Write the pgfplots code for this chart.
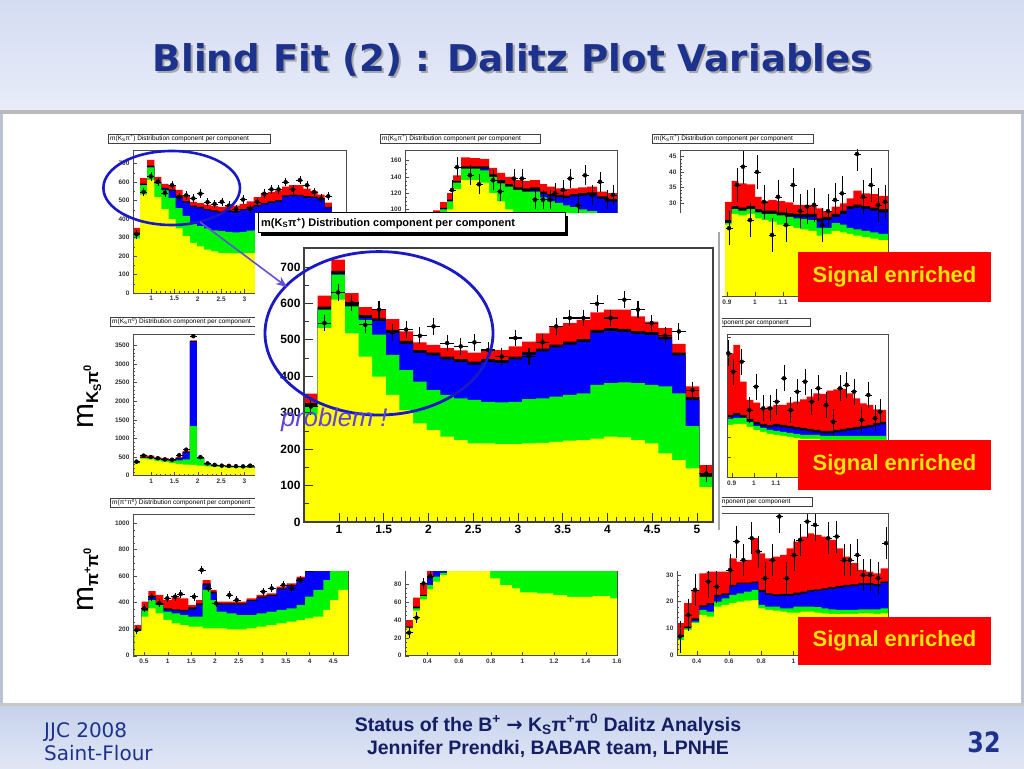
\documentclass[border=0pt]{standalone}
\usepackage{fontspec}
\setmainfont{Liberation Sans}
\newfontfamily\dejavu{DejaVu Sans}
\usepackage{pgfplots}
\pgfplotsset{compat=1.18}
\usepackage{pgfplotstable}
\usetikzlibrary{arrows.meta}

\definecolor{hy}{RGB}{255,255,0}
\definecolor{hg}{RGB}{0,245,0}
\definecolor{hb}{RGB}{0,0,255}
\definecolor{hr}{RGB}{255,0,0}
\definecolor{navy}{RGB}{28,50,140}
\definecolor{footnavy}{RGB}{20,30,100}
\definecolor{ringblue}{RGB}{25,25,200}
\definecolor{arrowc}{RGB}{100,80,220}
\definecolor{probc}{RGB}{95,65,225}
\definecolor{sigtxt}{RGB}{255,232,0}
\definecolor{bandtop}{RGB}{212,220,242}
\definecolor{bandbot}{RGB}{232,236,249}
\definecolor{foottop}{RGB}{198,210,236}
\definecolor{footbot}{RGB}{224,230,245}
\definecolor{edge}{RGB}{188,194,210}

\pgfplotsset{
  histo/.style={scale only axis, axis on top, anchor=south west,
    tick align=inside, tick pos=left,
    axis line style={draw=black!70, line width=0.5pt},
    tick style={black!70, line width=0.4pt},
    major tick length=4pt, minor tick length=2pt,
    tick label style={font=\fontsize{6.5}{7}\selectfont\bfseries, text=black!80},
    /pgf/number format/assume math mode=true,
    /pgf/number format/1000 sep={},
    scaled ticks=false, ymin=0},
}

% stacked components: each column is the cumulative top
\newcommand\stackhist[1]{%
  \addplot[const plot, fill=hr, draw=none] table[x=x,y=R]{#1}\closedcycle;
  \addplot[const plot, fill=black, draw=none] table[x=x,y=K]{#1}\closedcycle;
  \addplot[const plot, fill=hb, draw=none] table[x=x,y=B]{#1}\closedcycle;
  \addplot[const plot, fill=hg, draw=none] table[x=x,y=G]{#1}\closedcycle;
  \addplot[const plot, fill=hy, draw=none] table[x=x,y=Y]{#1}\closedcycle;}
\newcommand\datapts[4]{%
  \addplot[only marks, mark=none, error bars/.cd, x dir=both, x fixed=#2,
    y dir=both, y fixed=#3, error mark=none,
    error bar style={line width=#4, black}] table[x=x,y=y]{#1};}

% m(Ks pi+) : big plot and top-left
\pgfplotstableread{
x Y G B K R
0.610 295 318 318 326 352
0.762 532 583 583 591 621
0.915 610 679 681 689 720
1.067 518 592 592 600 628
1.219 454 555 560 568 590
1.372 399 514 551 559 583
1.524 349 459 519 527 557
1.676 307 417 489 497 523
1.828 271 385 464 472 493
1.981 252 362 457 465 486
2.133 234 349 446 454 477
2.285 225 339 439 447 471
2.438 216 335 432 440 465
2.590 216 330 439 447 471
2.742 214 328 436 444 472
2.895 214 330 446 454 482
3.047 216 337 459 467 495
3.199 217 339 468 476 518
3.351 220 344 479 487 537
3.504 223 349 487 495 546
3.656 225 353 494 502 555
3.808 229 376 519 527 575
3.961 234 381 524 532 583
4.113 232 383 522 530 583
4.265 225 381 516 524 564
4.418 216 376 513 521 550
4.570 188 372 501 509 532
4.722 170 353 457 465 489
4.874 147 263 335 343 372
5.027 96 124 124 132 156
5.179 96 124 124 132 156
}\kspiptab
\pgfplotstableread{
x y
0.686 317
0.838 546
0.991 630
1.143 601
1.295 541
1.448 583
1.600 520
1.752 528
1.904 511
2.057 537
2.209 491
2.361 482
2.514 493
2.666 472
2.818 454
2.971 505
3.123 454
3.275 493
3.427 537
3.580 560
3.732 560
3.884 599
4.037 560
4.189 610
4.341 583
4.494 546
4.646 511
4.798 523
4.950 362
5.103 133
}\kspipdat

% m(Ks pi0)
\pgfplotstableread{
x Y G B K R
0.610 330 350 350 360 378
0.762 460 480 480 490 560
0.915 440 470 470 480 540
1.067 400 440 440 455 490
1.219 370 410 415 430 470
1.372 340 390 400 410 450
1.524 320 410 460 475 500
1.676 300 440 620 635 660
1.828 290 1330 3600 3620 3640
1.981 270 460 470 480 500
2.133 250 300 310 320 340
2.285 240 270 280 290 300
2.438 230 255 260 270 285
2.590 220 245 250 260 275
2.742 215 235 240 250 265
2.895 210 230 235 245 255
3.047 205 225 235 245 260
3.199 205 225 235 245 260
3.351 205 225 235 245 260
}\kspzTab
\pgfplotstableread{
x y
0.686 378
0.838 540
0.991 500
1.143 470
1.295 440
1.448 430
1.600 550
1.752 700
1.904 3750
2.057 500
2.209 330
2.361 290
2.514 270
2.666 265
2.818 255
2.971 250
3.123 270
}\kspzDat

% top-middle (x in picture units)
\pgfplotstableread{
x Y G B K R
433 90 95 95 97 99
440 95 100 100 102 109
447 100 110 110 112 120
453 125 133 133 135 142
461 136 150 150 153 164
470 136 150 150 153 163
480 133 148 150 153 162
489 120 140 140 143 151
497 110 132 132 136 145
505 100 128 128 131 140
513 95 124 124 127 136
522 90 122 122 126 135
530 85 122 123 127 136
540 80 115 119 122 131
547 75 110 116 119 128
555 70 108 115 118 126
563 65 105 114 117 125
570 60 103 116 119 126
578 58 100 117 120 127
587 55 98 118 121 128
597 52 95 113 116 122
607 50 93 110 113 120
617 50 93 110 113 120
}\tmTab
\pgfplotstableread{
x y
452 124
457 152
470 142
479 131
493 136
500 122
514 138
522 138
535 112
543 112
550 112
555 120
563 124
570 138
578 105
585 142
592 118
600 134
607 112
613 118
}\tmDat

% top-right
\pgfplotstableread{
x Y G B K R
725 23 23.5 23.5 24.5 30.4
731.7 26.5 28 28 29 37.1
738.3 26 27.5 27.5 28.5 36.3
746.7 26.5 28 28 29 36
755 25 27 27 28 32
761.7 24.5 26.5 26.5 27.5 30.6
768.3 24 26.5 26.5 27.5 31
776.7 23 26 26 27 30.6
785 22.5 25.5 25.7 26.7 30.2
793.3 22 25 25.5 26.5 29.4
800 21.5 24.8 25.5 26.5 29.4
808.3 21 24.5 25.5 26.5 29.4
816.7 19.5 22 24 25 28.3
823.3 20 22 24.5 25.5 27.4
831.7 21 23.5 25.5 26.5 28.8
840 20.5 23 26.5 27.5 29.9
846.7 20 22 28 29 31.5
853.3 19.5 21.5 28.5 29.5 34
861.7 19 21 28 29 33.1
870 18.5 20.5 27.5 28.5 32.9
878.3 18 20 27 28 32.3
888 18 20 27 28 32.3
}\trTab
\pgfplotstableread{
x y
729 21.9
737 35.8
743 41.7
750 24.5
757 40
764 30.4
772 19.7
778 32
786 22.9
793 35.8
800 27.4
807 28.8
814 29.4
822 22.9
828 27.4
835 31
842 33.1
857 45.8
863 32
871 35.8
878 29.4
885 30.4
}\trDat

% middle-right
\pgfplotstableread{
x Y G B K R
727.3 52 58 59.5 62 123.7
733.3 53 59 61.5 64 132
740 53 59 59.5 62 95.3
746.7 50 55 55.5 58 77
753.3 47 51 52.5 55 74.3
760 45 49 50.5 53 68.7
766.7 43 47 49.5 52 70.3
773.3 42 46 50.5 53 72
780 41 45 49.5 52 72
786.7 40 44 48.5 51 74.3
793.3 39 43 47.5 50 75.3
800 38 42 46.5 49 77.7
806.7 38 42 45.5 48 80.3
813.3 38 42 44.5 47 83.7
820 37 41 43.5 46 83
826.7 37 41 43.5 46 86.3
833.3 37 41 44.5 47 87.7
840 37 41 45.5 48 88
846.7 37 41 46.5 49 83.7
853.3 37 41 47.5 50 78.7
860 37 41 48.5 51 73.7
866.7 37 41 49.5 52 72
873.3 37 41 51.5 54 67.7
880 37 41 52.5 55 67
886 37 41 52.5 55 67
}\mrTab
\pgfplotstableread{
x y
728.3 123.7
733.3 105.3
741.7 115.3
749.3 67
756 90.3
763.3 68.7
770 68.7
776.7 75.3
784 98.7
790.7 67
797.3 85.3
805 95.3
811.7 75.3
818.3 88.7
826 72
833.3 55.3
840 88.7
846.7 92
854 85.3
861.7 57
868.3 82
875 58.7
880 65.3
}\mrDat

% m(pi+ pi0) bottom-left
\pgfplotstableread{
x Y G B K R
134.3 185 195 195 200 231
141.7 294 340 340 352 408
148.3 357 420 440 450 488
155.7 320 382 385 395 458
163.3 270 332 345 357 420
171.7 244 320 340 350 440
180 231 307 335 345 433
188.3 219 294 350 365 382
196 219 294 382 395 420
202.7 206 496 533 546 571
210.7 206 420 470 483 496
216.7 206 332 385 395 408
226.7 199 320 385 395 408
236.7 199 307 385 395 408
246.7 206 307 412 420 433
256.7 219 320 437 445 458
266.7 231 332 450 458 470
276.7 244 345 500 508 521
286.7 257 357 525 533 546
296.7 269 382 575 584 596
305 282 445 630 640 700
313.3 294 496 700 720 760
323.3 345 571 750 770 800
330 420 640 800 820 850
338.3 496 700 850 870 900
348 496 700 850 870 900
}\blTab
\pgfplotstableread{
x y
136.7 194
144.3 357
151.7 445
159.3 395
167.3 433
175 445
180.7 465
194 445
201.7 647
208.3 508
216 395
229.3 458
236.7 420
263.3 483
271.7 508
283.3 533
291.7 508
300 571
}\blDat

% bottom-middle
\pgfplotstableread{
x Y G B K R
405 30.5 31.5 31.5 32.4 39.9
413 50.3 52.9 52.9 55 65
420 62.9 66.7 66.7 68 80.8
427 74.1 79 86.4 88 100
433 82.7 88.3 96 97 100
440 90.1 92.7 100 101 104
447 130 132 133 134 136
490 86.4 130 132 133 136
500 79 130 132 133 136
512 75.2 130 132 133 136
520 70.8 130 132 133 136
537 69.6 130 132 133 136
553 67.8 130 132 133 136
567 65.9 130 132 133 136
593 66.7 130 132 133 136
610 64.1 130 132 133 136
617 64.1 130 132 133 136
}\bmTab
\pgfplotstableread{
x y
409 25.7
416.5 42.5
423.5 80.8
430 89
}\bmDat

% bottom-right
\pgfplotstableread{
x Y G B K R
676.7 5.6 6.9 6.9 7.5 11.9
684 9.4 10 10 10.6 19.4
691.7 11.9 12.5 13.1 13.75 24.4
699.3 15 16.9 17.9 18.6 30.6
706.7 14.4 16.25 18.8 19.4 31.25
714 18.1 20 21.9 22.5 31.25
721.7 18.75 21.25 22.5 23.1 31.25
729.3 19.4 22.5 25.6 26.25 36.25
736.7 20 23.1 26.6 27.1 35
744 20.4 23.75 26.6 27.1 35.6
751.7 20.6 24.4 26.9 27.5 43.75
758.3 17.5 18.75 23.75 24.4 38.1
765 16.9 18.1 22.5 23.1 36.25
772.7 16.6 18.1 22.1 22.75 36.9
780 16.25 17.5 22.25 22.9 37.5
786.7 15.9 17.5 22.25 22.9 40
793.3 15.9 18.1 22.5 23.4 42.5
800.7 16.25 18.1 23.1 23.75 44.4
807.3 16.25 18.1 23.75 24.4 45.6
814 15.9 17.9 24 24.6 45
821.7 15.6 17.5 24.4 25 44.4
828.3 15.4 17.1 24.75 25.4 43.1
836 15.4 16.9 25.25 25.9 40
843.3 15.4 16.9 25.6 26.25 36.9
850.7 15.4 16.9 25.9 26.5 34.4
858.3 15.6 17.1 26.25 26.9 31.9
866 15.6 17.1 26.25 26.9 31.25
873.3 15.4 17.1 26 26.6 30.6
880.7 15.6 17.5 26.9 27.5 32.5
888.3 15.6 17.5 26.9 27.5 32.5
}\brTab
\pgfplotstableread{
x y
680 6.9
688.3 15
695 24.4
708.3 27.5
716.7 25.6
730 31.9
736.7 42.5
743.3 35.6
751.7 43.75
758.3 38.75
765 28.75
772.7 35.6
779.3 51.9
786.7 28.75
794 37.5
800 43.1
807.3 50
815 48.75
828.3 43.75
836.7 44.4
844 35.6
850 35.6
857.3 37.5
863.3 30
870 30
878.3 28.75
886 41.9
}\brDat

\newcommand\smalltitle[5]{% x1 x2 ytop ybot text
  \fill[black!65] (#1+1.2,768-#4-1.2) rectangle (#2+1.2,768-#3-1.2);
  \filldraw[fill=white, draw=black!75, line width=0.5pt] (#1,768-#4) rectangle (#2,768-#3);
  \node[anchor=west, inner sep=0pt, font=\fontsize{6.5}{7}\selectfont] at (#1+2,768-#3/2-#4/2) {#5};}

\begin{document}
\begin{tikzpicture}
\begin{scope}[x=1pt,y=1pt]
\useasboundingbox (0,0) rectangle (1024,768);
\fill[edge] (0,0) rectangle (1024,768);
\shade[top color=bandtop, bottom color=bandbot] (0,658) rectangle (1024,768);
\fill[black!27] (0,654) rectangle (1024,658);
\fill[white] (3,65) rectangle (1021,654);
\fill[black!22] (0,62) rectangle (1024,65);
\shade[top color=foottop, bottom color=footbot] (0,0) rectangle (1024,62);
\end{scope}

% ---- small plots ----
\begin{axis}[histo, at={(133pt,475pt)}, width=213pt, height=143pt,
  xmin=0.61, xmax=5.179, ymax=773,
  xtick={1,1.5,2,2.5,3}, minor x tick num=4,
  ytick={0,100,...,700}, minor y tick num=1]
\stackhist{\kspiptab}
\datapts{\kspipdat}{0.076}{23}{0.5pt}
\end{axis}

\begin{axis}[histo, at={(405pt,477pt)}, width=212pt, height=141pt,
  xmin=405, xmax=617, ymax=173, xtick=\empty,
  ytick={100,120,140,160}, minor y tick num=3]
\stackhist{\tmTab}
\datapts{\tmDat}{3.5}{12}{0.5pt}
\end{axis}

\begin{axis}[histo, at={(680pt,472pt)}, width=208pt, height=146pt,
  xmin=680, xmax=888, ymax=47.1,
  xtick={727,755,783}, xticklabels={0.9,1,1.1},
  ytick={30,35,40,45}, minor y tick num=4]
\stackhist{\trTab}
\datapts{\trDat}{3.5}{5.5}{0.5pt}
\end{axis}

\begin{axis}[histo, at={(133pt,292.3pt)}, width=213pt, height=141.7pt,
  xmin=0.61, xmax=5.179, ymax=3809,
  xtick={1,1.5,2,2.5,3}, minor x tick num=4,
  ytick={0,500,...,3500}, minor y tick num=4]
\stackhist{\kspzTab}
\datapts{\kspzDat}{0.076}{45}{0.5pt}
\end{axis}

\begin{axis}[histo, at={(727pt,291pt)}, width=161pt, height=143pt,
  xmin=727, xmax=888, ymax=143,
  xtick={731.7,753.8,775.9}, xticklabels={0.9,1,1.1},
  ytick={20,40,...,140}, yticklabels={}]
\stackhist{\mrTab}
\datapts{\mrDat}{3.3}{13}{0.5pt}
\end{axis}

\begin{axis}[histo, at={(133pt,112.3pt)}, width=215pt, height=141.7pt,
  xmin=133, xmax=348, ymax=1069,
  xtick={144,167.7,191.3,215,238.6,262.3,286,309.6,333.3},
  xticklabels={0.5,1,1.5,2,2.5,3,3.5,4,4.5},
  ytick={0,200,...,1000}, minor y tick num=3]
\stackhist{\blTab}
\datapts{\blDat}{3.8}{30}{0.5pt}
\end{axis}

\begin{axis}[histo, at={(405pt,112.3pt)}, width=212pt, height=161pt,
  xmin=405, xmax=617, ymax=180,
  xtick={427.3,459,490.7,522.3,554,585.7,617},
  xticklabels={0.4,0.6,0.8,1,1.2,1.4,1.6},
  ytick={0,20,...,80}, minor y tick num=3]
\stackhist{\bmTab}
\datapts{\bmDat}{3.5}{6}{0.5pt}
\end{axis}

\begin{axis}[histo, at={(677pt,113pt)}, width=211pt, height=141.7pt,
  xmin=677, xmax=888, ymax=53.1,
  xtick={696.7,729,761.2,793.4},
  xticklabels={0.4,0.6,0.8,1},
  ytick={0,10,20,30}, minor y tick num=4]
\stackhist{\brTab}
\datapts{\brDat}{3.6}{6}{0.5pt}
\end{axis}

\begin{scope}[x=1pt,y=1pt]
\smalltitle{108}{270}{134}{143}{m(K\textsubscript{S}π\textsuperscript{+}) Distribution component per component}
\smalltitle{380}{540}{134}{143}{m(K\textsubscript{S}π\textsuperscript{+}) Distribution component per component}
\smalltitle{652}{813}{134}{143}{m(K\textsubscript{S}π\textsuperscript{+}) Distribution component per component}
\smalltitle{110}{275}{317}{326}{m(K\textsubscript{S}π\textsuperscript{0}) Distribution component per component}
\smalltitle{648}{810}{318}{326}{m(K\textsubscript{S}π\textsuperscript{0}) Distribution component per component}
\smalltitle{110}{275}{498}{507}{m(π\textsuperscript{+}π\textsuperscript{0}) Distribution component per component}
\smalltitle{650}{812}{497}{506}{m(π\textsuperscript{+}π\textsuperscript{0}) Distribution component per component}
% small ring
\draw[ringblue, line width=2.6pt] (171.7,768-188) ellipse [x radius=68.3, y radius=37];
% white backdrop of the zoomed plot
\fill[white] (255,768-571) rectangle (722,768-213);
\draw[black!35, line width=1.5pt] (719,768-232) -- (719,768-530);
% title box of the zoomed plot
\fill[black] (261,768-236) rectangle (568,768-216);
\filldraw[fill=white, draw=black, line width=1pt] (258,768-233) rectangle (565,768-213);
\node[anchor=west, inner sep=0pt, font=\fontsize{11}{12}\selectfont\bfseries] at (261,768-223) {m(K\textsubscript{S}π\textsuperscript{+}) Distribution component per component};
\end{scope}

% ---- zoomed plot ----
\begin{axis}[histo, at={(304pt,246pt)}, width=409pt, height=274pt,
  xmin=0.61, xmax=5.179, ymax=752,
  xtick={1,1.5,...,5}, minor x tick num=4,
  ytick={0,100,...,700}, minor y tick num=1,
  major tick length=9pt, minor tick length=5pt,
  axis line style={draw=black!75, line width=1.1pt},
  tick style={black!80, line width=0.8pt},
  tick label style={font=\fontsize{12}{13}\selectfont\bfseries, text=black}]
\stackhist{\kspiptab}
\datapts{\kspipdat}{0.076}{23}{1.1pt}
\end{axis}

\begin{scope}[x=1pt,y=1pt]
\draw[ringblue, line width=2.8pt] (379,768-333.3) ellipse [x radius=114, y radius=81.7];
\draw[arrowc, line width=1.6pt, -{Stealth[length=11pt,width=9pt]}] (200,768-222) -- (287,768-287);
\node[anchor=base west, inner sep=0pt, text=probc, font=\fontsize{25.5}{27}\selectfont\itshape] at (281,768-427) {problem !};

% signal boxes
\foreach \yt/\yb in {252/302, 440/490, 617/665}{
  \fill[hr] (798,768-\yb) rectangle (991,768-\yt);
  \node[text=sigtxt, font=\fontsize{22}{24}\selectfont\bfseries] at (894.5,768-\yt/2-\yb/2) {Signal enriched};
}

% row labels
\node[rotate=90, anchor=base, inner sep=0pt] at (93,768-397)
  {\fontsize{30}{32}\selectfont m\fontsize{17}{18}\selectfont\bfseries\raisebox{-5pt}{K\raisebox{-3pt}{\fontsize{11}{12}\selectfont S}π\raisebox{7pt}{\fontsize{11}{12}\selectfont 0}}};
\node[rotate=90, anchor=base, inner sep=0pt] at (93,768-580)
  {\fontsize{30}{32}\selectfont m\fontsize{17}{18}\selectfont\bfseries\raisebox{-5pt}{π\raisebox{7pt}{\fontsize{11}{12}\selectfont +}π\raisebox{7pt}{\fontsize{11}{12}\selectfont 0}}};

% slide title
\node[anchor=base, inner sep=0pt, text=black!35] at (515,768-73.5)
  {\resizebox{720pt}{28pt}{\dejavu\bfseries Blind Fit (2) : Dalitz Plot Variables}};
\node[anchor=base, inner sep=0pt, text=navy] at (513,768-71.7)
  {\resizebox{720pt}{28pt}{\dejavu\bfseries Blind Fit (2) : Dalitz Plot Variables}};

% footer
\node[anchor=base west, inner sep=0pt, text=navy, font=\fontsize{20}{22}\selectfont\dejavu] at (44,768-737) {JJC 2008};
\node[anchor=base west, inner sep=0pt, text=navy, font=\fontsize{20}{22}\selectfont\dejavu] at (44,768-760) {Saint-Flour};
\node[anchor=base, inner sep=0pt, text=footnavy, font=\fontsize{19.5}{21}\selectfont\bfseries] at (548,768-731)
  {Status of the B\textsuperscript{+} {\dejavu →} K\textsubscript{S}π\textsuperscript{+}π\textsuperscript{0} Dalitz Analysis};
\node[anchor=base, inner sep=0pt, text=footnavy, font=\fontsize{19.5}{21}\selectfont\bfseries] at (548,768-754)
  {Jennifer Prendki, BABAR team, LPNHE};
\node[anchor=base, inner sep=0pt, text=navy] at (984,768-752)
  {\scalebox{0.85}[1]{\fontsize{28}{30}\selectfont\dejavu\bfseries 32}};
\end{scope}
\end{tikzpicture}
\end{document}
